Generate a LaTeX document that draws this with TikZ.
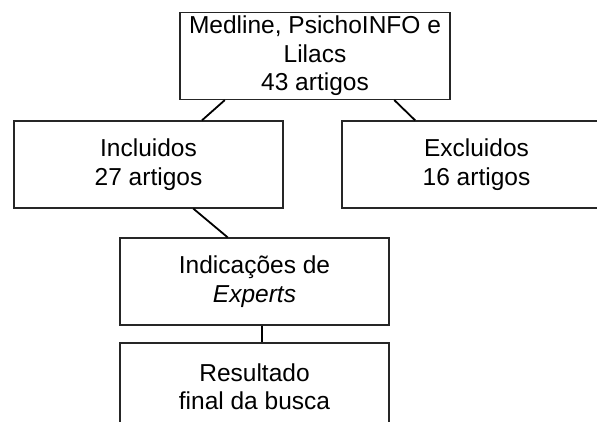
\documentclass[tikz,border=0pt]{standalone}
\usepackage{fontspec}
\setmainfont{Liberation Sans}
\begin{document}
\begin{tikzpicture}[x=1pt,y=-1pt,
  box/.style={draw=black!85, line width=1.2pt, minimum width=269pt, minimum height=87pt,
    inner sep=0pt, align=center, font=\fontsize{24.5}{28.5}\selectfont},
  link/.style={draw=black, line width=1.8pt}]
\useasboundingbox (0,0) rectangle (597,422);
\clip (0,0) rectangle (597,422);
\node[box, minimum width=270pt] (top) at (315,56) {Medline, PsichoINFO e\\Lilacs\\43 artigos};
\node[box] (inc) at (148.5,164.5) {Incluidos\\27 artigos};
\node[box] (exc) at (476.5,164.5) {Excluidos\\16 artigos};
\node[box] (ind) at (254.5,281.5) {Indicações de\\\textit{Experts}};
\node[box] (res) at (254.5,386.5) {Resultado\\final da busca};
\draw[link] ([xshift=-90.2pt]top.south) -- ([xshift=53.4pt]inc.north);
\draw[link] ([xshift=79.3pt]top.south) -- ([xshift=-61.3pt]exc.north);
\draw[link] ([xshift=44.8pt]inc.south) -- ([xshift=-26.8pt]ind.north);
\draw[link] ([xshift=7.8pt]ind.south) -- ([xshift=7.8pt]res.north);
\end{tikzpicture}
\end{document}
